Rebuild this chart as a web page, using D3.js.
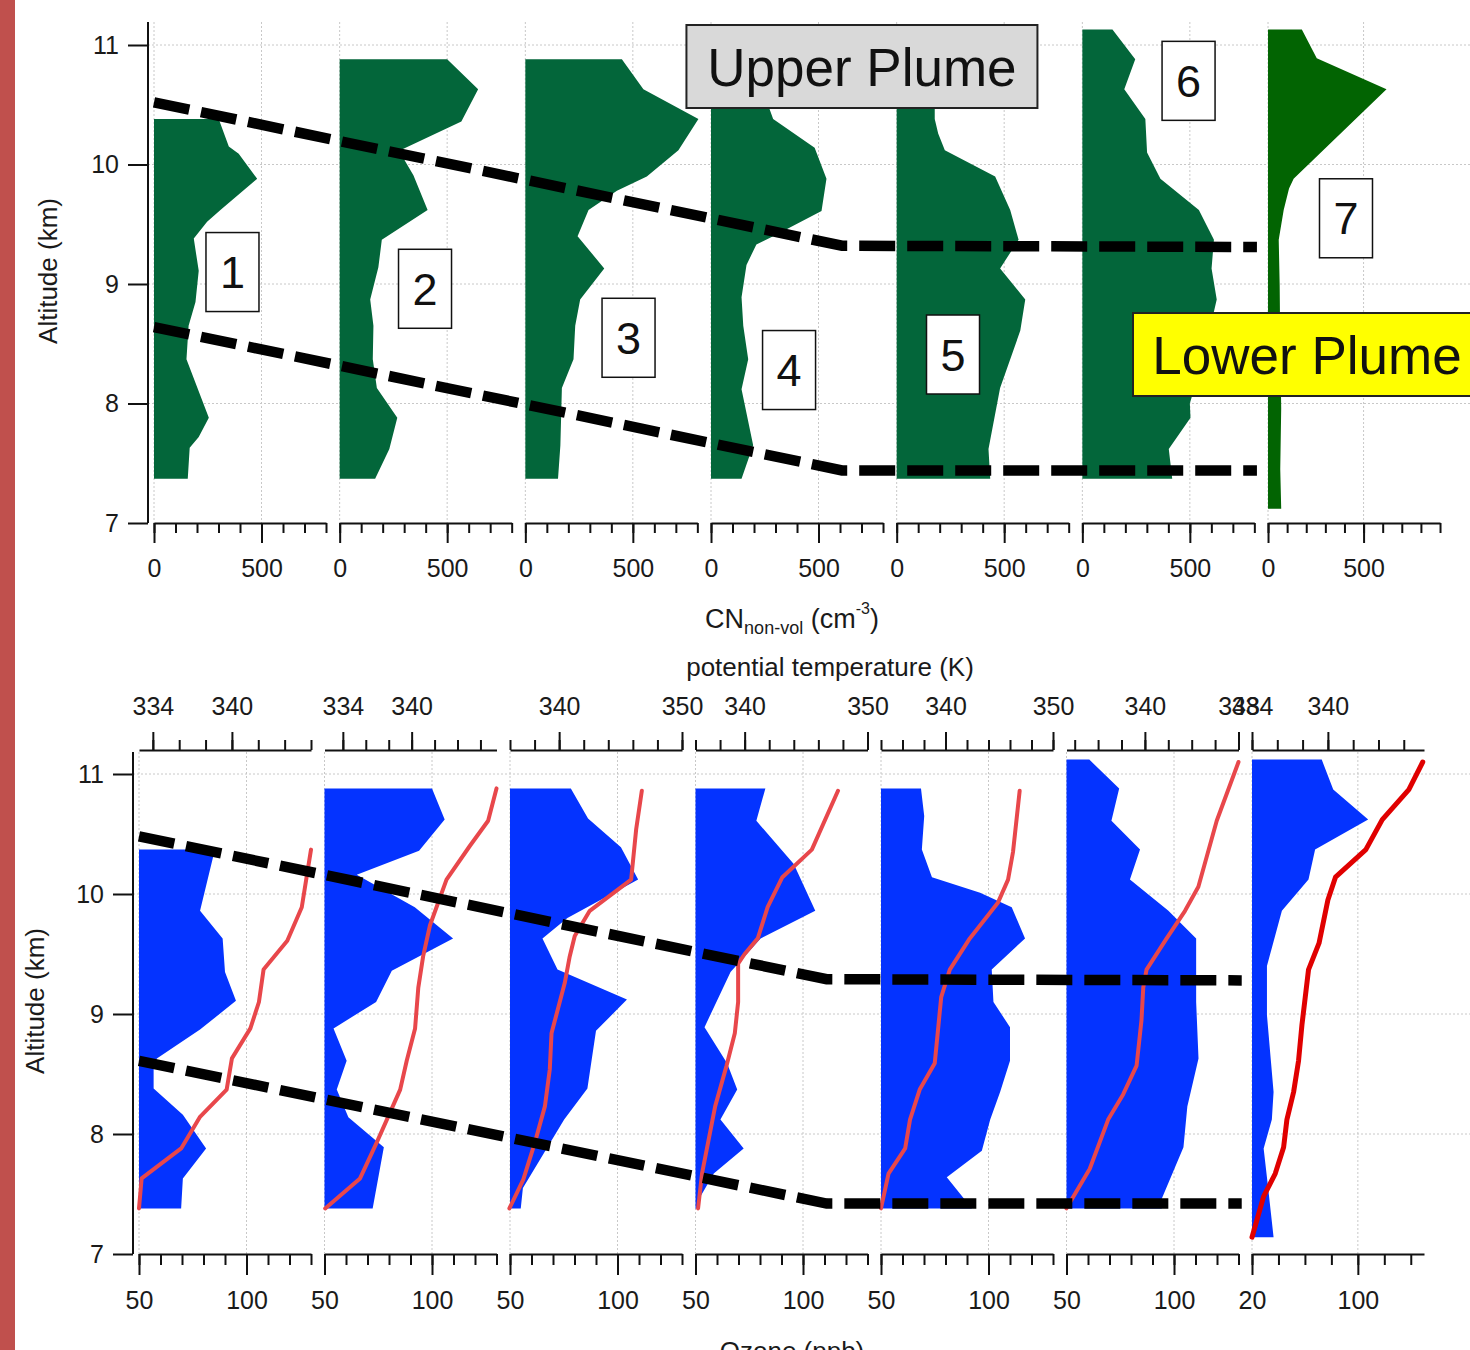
<!DOCTYPE html>
<html><head><meta charset="utf-8">
<script src="https://cdn.jsdelivr.net/npm/d3@7"></script>
<style>
body{margin:0;background:#fff;}
svg{display:block;}
text{font-family:"Liberation Sans",Arial,Helvetica,sans-serif;}
</style>
</head><body>
<svg id="c" width="1470" height="1350"></svg>
<script>
// ---------------- DATA ----------------
// Flight legs
const legLabels = ["1","2","3","4","5","6","7"];

// CN non-volatile profiles: [altitude km, CN cm^-3]
const cn1 = [[7.37,157],[7.63,166],[7.72,208],[7.88,255],[8.37,151],[8.65,161],[8.85,193],[9.11,208],[9.38,185],[9.52,247],[9.62,309],[9.88,480],[10.09,394],[10.15,348],[10.38,301]];
const cn2 = [[7.37,165],[7.62,231],[7.88,268],[8.13,173],[8.37,154],[8.65,157],[8.87,142],[9.14,180],[9.37,196],[9.62,409],[9.91,343],[10.03,304],[10.12,282],[10.36,566],[10.63,644],[10.88,500]];
const cn3 = [[7.37,152],[7.65,163],[8.13,170],[8.37,224],[8.65,232],[8.87,255],[9.13,367],[9.40,243],[9.62,294],[9.78,426],[9.90,565],[10.12,712],[10.38,805],[10.63,549],[10.88,449]];
const cn4 = [[7.37,142],[7.65,196],[8.12,142],[8.37,173],[8.65,150],[8.89,142],[9.16,165],[9.33,211],[9.40,289],[9.61,514],[9.88,537],[10.14,482],[10.38,289],[10.50,265],[10.63,255],[10.88,255]];
const cn5 = [[7.37,435],[7.62,427],[8.13,481],[8.61,575],[8.87,598],[9.13,481],[9.37,567],[9.62,528],[9.90,458],[10.12,224],[10.26,193],[10.38,177],[10.63,177],[10.88,177]];
const cn6 = [[7.37,418],[7.62,402],[7.88,503],[8.0,500],[8.41,566],[8.87,625],[9.13,601],[9.37,612],[9.62,542],[9.88,363],[10.10,301],[10.38,293],[10.63,195],[10.88,246],[11.13,140]];
const cn7 = [[7.12,69],[7.45,64],[7.96,69],[8.48,64],[8.99,61],[9.37,56],[9.62,82],[9.80,110],[9.88,134],[10.63,620],[10.89,255],[11.13,177]];

// Ozone profiles: [altitude km, O3 ppb]
const o3_1 = [[7.38,69.6],[7.63,70.4],[7.88,81.2],[8.16,70.4],[8.38,56.8],[8.55,56.8],[8.63,58.3],[8.87,78.4],[9.11,95.1],[9.35,90.0],[9.63,88.9],[9.86,78.4],[10.37,85.3]];
const o3_2 = [[7.38,72.4],[7.89,77.6],[8.14,61.1],[8.37,55.7],[8.61,60.3],[8.88,54.2],[9.10,74.0],[9.36,81.3],[9.63,109.8],[9.89,92.0],[10.16,65.0],[10.36,94.0],[10.62,105.9],[10.88,100]];
const o3_3 = [[7.38,55],[7.55,56],[8.12,75.2],[8.38,86.0],[8.86,90.0],[9.12,104.4],[9.37,72.1],[9.63,65.1],[9.80,76.7],[10.12,109.6],[10.39,101.6],[10.63,86.3],[10.88,78.3]];
const o3_4 = [[7.38,50.8],[7.48,52.3],[7.67,58.5],[7.88,72.4],[8.12,61.6],[8.37,69.4],[8.59,64.7],[8.89,54.2],[9.35,66.3],[9.63,80.3],[9.86,105.7],[10.25,95.7],[10.61,78.3],[10.88,82.5]];
const o3_5 = [[7.38,92.3],[7.64,80.6],[7.86,96.9],[8.12,100.8],[8.35,105.4],[8.61,110.0],[8.89,110.0],[9.10,102.3],[9.37,101.5],[9.63,117.0],[9.89,110.8],[10.01,96.1],[10.14,73.7],[10.37,69.0],[10.65,70.1],[10.88,68.6]];
const o3_6 = [[7.38,94.3],[7.46,94.3],[7.89,104.4],[8.23,106.2],[8.63,111.4],[9.10,110.3],[9.63,110.3],[9.86,97.4],[10.12,79.5],[10.37,84.2],[10.61,70.9],[10.88,74.5],[11.12,60.6]];
const o3_7 = [[7.14,36.3],[7.59,31.8],[7.88,28.8],[8.12,35.0],[8.35,36.3],[8.99,31.3],[9.40,31.3],[9.86,42.6],[10.12,62.7],[10.37,67.7],[10.62,107.8],[10.87,81.4],[11.12,72.7]];

// Potential temperature profiles: [altitude km, theta K]
const th1 = [[7.38,332.95],[7.63,333.15],[7.88,336.15],[8.14,337.56],[8.37,339.6],[8.63,340.0],[8.88,341.4],[9.10,342.05],[9.37,342.4],[9.61,344.2],[9.89,345.3],[10.37,346.0]];
const th2 = [[7.38,332.46],[7.63,335.5],[7.93,336.96],[8.37,339.0],[8.61,339.57],[8.88,340.3],[9.22,340.58],[9.48,341.0],[9.74,341.6],[10.12,343.04],[10.40,345.07],[10.61,346.67],[10.88,347.4]];
const th3 = [[7.38,335.95],[7.62,337.08],[7.93,338.03],[8.23,338.84],[8.54,339.24],[8.84,339.38],[9.05,339.92],[9.26,340.46],[9.48,340.86],[9.65,341.27],[9.86,342.49],[10.12,345.86],[10.54,346.27],[10.86,346.73]];
const th4 = [[7.38,336.21],[7.67,336.53],[8.23,337.6],[8.57,338.53],[8.84,339.2],[9.10,339.47],[9.42,339.47],[9.50,340.0],[9.63,341.07],[9.89,341.87],[10.14,343.07],[10.37,345.47],[10.86,347.6]];
const th5 = [[7.38,334.0],[7.67,334.7],[7.88,336.25],[8.12,336.7],[8.37,337.6],[8.59,339.0],[9.14,339.6],[9.37,340.4],[9.63,342.26],[9.93,344.89],[10.12,345.82],[10.35,346.28],[10.86,346.9]];
const th6 = [[7.38,333.29],[7.71,335.29],[8.12,336.86],[8.33,338.14],[8.57,339.29],[8.95,339.71],[9.22,339.86],[9.37,340.14],[9.63,341.86],[9.86,343.43],[10.06,344.57],[10.61,346.14],[11.10,348.0]];
const th7 = [[7.14,334.0],[7.48,334.92],[7.67,335.84],[7.89,336.5],[8.12,336.76],[8.35,337.29],[8.61,337.68],[8.91,337.95],[9.14,338.21],[9.37,338.47],[9.59,339.3],[9.95,340.0],[10.14,340.6],[10.37,343.0],[10.62,344.3],[10.87,346.4],[11.10,347.5]];

// Axis domains and tick labels
const altTicks = [7, 8, 9, 10, 11];
const cnDomains = [[0,800],[0,800],[0,800],[0,800],[0,800],[0,800],[0,900]];
const cnTickLabels = [0, 500];
const o3Domains = [[50,130],[50,130],[50,130],[50,130],[50,130],[50,130],[20,150]];
const o3TickStep = [10,10,10,10,10,10,20];
const o3TickLabels = [[50,100],[50,100],[50,100],[50,100],[50,100],[50,100],[20,100]];
const thDomains = [[332.95,346],[332.4,347.4],[336,350],[336,350],[334,350],[333.3,348],[334,347.6]];
const thTickLabels = [[334,340],[334,340],[340,350],[340,350],[340,350],[340,348],[334,340]];

// Plume boundaries: [panel index, x value, altitude]
const cnPlumeUpper = [[0,0,10.52],[3,609,9.32],[5,812,9.31]];
const cnPlumeLower = [[0,0,8.64],[3,609,7.44],[5,812,7.44]];
const o3PlumeUpper = [[0,50,10.48],[3,111,9.29],[5,131.5,9.28]];
const o3PlumeLower = [[0,50,8.61],[3,111,7.42],[5,131.5,7.42]];
// Leg number label anchors: [CN value, altitude] within each top panel
const legLabelPos = [[365,9.10],[397,8.96],[480,8.55],[363,8.28],[262,8.41],[494,10.70],[408,9.55]];

const cnData = [cn1,cn2,cn3,cn4,cn5,cn6,cn7];
const o3Data = [o3_1,o3_2,o3_3,o3_4,o3_5,o3_6,o3_7];
const thData = [th1,th2,th3,th4,th5,th6,th7];

// ---------------- LAYOUT ----------------
const svg = d3.select("#c");
const W = 1470;
const panelW = 172;
const topX0 = 154, topStep = 185.67;
const botX0 = 139, botStep = 185.5;
const yTop = d3.scaleLinear().domain([7,11]).range([523,45]);
const yBot = d3.scaleLinear().domain([7,11]).range([1254,774]);
const cnX = i => d3.scaleLinear().domain(cnDomains[i]).range([topX0+i*topStep, topX0+i*topStep+panelW]);
const o3X = i => d3.scaleLinear().domain(o3Domains[i]).range([botX0+i*botStep, botX0+i*botStep+panelW]);
const thX = i => d3.scaleLinear().domain(thDomains[i]).range([botX0+i*botStep, botX0+i*botStep+panelW]);

const green = "#03663a", green7 = "#026402";
const blue = "#0433ff";
const red = "#e8474b", red7 = "#e00000";
const gridCol = "#c8c8c8";
const tickFs = 25;

// red side strip
svg.append("rect").attr("x",0).attr("y",0).attr("width",15).attr("height",1350).attr("fill","#c0504d");

// ---------- gridlines ----------
const g = svg.append("g").attr("stroke",gridCol).attr("stroke-width",1).attr("stroke-dasharray","2,2").attr("fill","none");
[8,9,10,11].forEach(a=>{
  g.append("line").attr("x1",148).attr("x2",W).attr("y1",yTop(a)).attr("y2",yTop(a));
  g.append("line").attr("x1",133).attr("x2",W).attr("y1",yBot(a)).attr("y2",yBot(a));
});
for(let i=0;i<7;i++){
  cnTickLabels.forEach(v=>{
    const x=cnX(i)(v);
    g.append("line").attr("x1",x).attr("x2",x).attr("y1",22).attr("y2",523);
  });
  o3TickLabels[i].forEach(v=>{
    const x=o3X(i)(v);
    g.append("line").attr("x1",x).attr("x2",x).attr("y1",752).attr("y2",1254);
  });
}

// ---------- profiles ----------
for(let i=0;i<7;i++){
  const x = cnX(i);
  const area = d3.area().x0(x(cnDomains[i][0])).x1(d=>x(d[1])).y(d=>yTop(d[0]));
  svg.append("path").datum(cnData[i]).attr("d",area).attr("fill", i===6?green7:green);
}
for(let i=0;i<7;i++){
  const x = o3X(i);
  const area = d3.area().x0(x(o3Domains[i][0])).x1(d=>x(d[1])).y(d=>yBot(d[0]));
  svg.append("path").datum(o3Data[i]).attr("d",area).attr("fill", blue);
}
for(let i=0;i<7;i++){
  const x = thX(i);
  const line = d3.line().x(d=>x(d[1])).y(d=>yBot(d[0]));
  svg.append("path").datum(thData[i]).attr("d",line).attr("fill","none")
    .attr("stroke", i===6?red7:red).attr("stroke-width", i===6?5:4)
    .attr("stroke-linejoin","round").attr("stroke-linecap","round");
}

// ---------- axes ----------
function styleAxis(sel, fs){
  sel.select(".domain").attr("stroke","#111").attr("stroke-width",2);
  sel.selectAll(".tick line").attr("stroke","#111").attr("stroke-width",2);
  sel.selectAll("text").attr("font-size",fs).attr("fill","#1a1a1a")
     .style("font-family","'Liberation Sans',Arial,sans-serif");
}
// Left altitude axes
const ayT = svg.append("g").attr("transform","translate(148,0)")
  .call(d3.axisLeft(yTop).tickValues(altTicks).tickFormat(d3.format("d")).tickSize(20).tickPadding(9).tickSizeOuter(0));
ayT.select(".domain").attr("d","M0,22V523");
styleAxis(ayT,tickFs);
const ayB = svg.append("g").attr("transform","translate(133,0)")
  .call(d3.axisLeft(yBot).tickValues(altTicks).tickFormat(d3.format("d")).tickSize(20).tickPadding(9).tickSizeOuter(0));
ayB.select(".domain").attr("d","M0,752V1254");
styleAxis(ayB,tickFs);

for(let i=0;i<7;i++){
  // CN axes
  const x = cnX(i);
  const minor = d3.range(cnDomains[i][0], cnDomains[i][1]+1, 100);
  const gm = svg.append("g").attr("transform","translate(0,523)")
    .call(d3.axisBottom(x).tickValues(minor).tickFormat("").tickSize(10).tickSizeOuter(0));
  styleAxis(gm,tickFs);
  const gM = svg.append("g").attr("transform","translate(0,523)")
    .call(d3.axisBottom(x).tickValues(cnTickLabels).tickFormat(d3.format("d")).tickSize(20).tickPadding(16).tickSizeOuter(0));
  gM.select(".domain").remove();
  styleAxis(gM,tickFs);

  // ozone axes
  const xo = o3X(i);
  const ominor = d3.range(o3Domains[i][0], o3Domains[i][1]+0.1, o3TickStep[i]);
  const go = svg.append("g").attr("transform","translate(0,1254)")
    .call(d3.axisBottom(xo).tickValues(ominor).tickFormat("").tickSize(11).tickSizeOuter(0));
  styleAxis(go,tickFs);
  const goM = svg.append("g").attr("transform","translate(0,1254)")
    .call(d3.axisBottom(xo).tickValues(o3TickLabels[i]).tickFormat(d3.format("d")).tickSize(21).tickPadding(16).tickSizeOuter(0));
  goM.select(".domain").remove();
  styleAxis(goM,tickFs);

  // theta axes
  const xt = thX(i);
  const tminor = d3.range(Math.ceil(thDomains[i][0]/2)*2, thDomains[i][1]+0.01, 2);
  const gt = svg.append("g").attr("transform","translate(0,750)")
    .call(d3.axisTop(xt).tickValues(tminor).tickFormat("").tickSize(10).tickSizeOuter(0));
  styleAxis(gt,tickFs);
  const gtM = svg.append("g").attr("transform","translate(0,750)")
    .call(d3.axisTop(xt).tickValues(thTickLabels[i]).tickFormat(d3.format("d")).tickSize(18).tickPadding(17).tickSizeOuter(0));
  gtM.select(".domain").remove();
  styleAxis(gtM,tickFs);
}

// ---------- axis titles ----------
svg.append("text").attr("transform","translate(57,271) rotate(-90)").attr("text-anchor","middle")
  .attr("font-size",26).attr("fill","#1a1a1a").text("Altitude (km)");
svg.append("text").attr("transform","translate(44,1001) rotate(-90)").attr("text-anchor","middle")
  .attr("font-size",26).attr("fill","#1a1a1a").text("Altitude (km)");
const cnT = svg.append("text").attr("x",792).attr("y",628).attr("text-anchor","middle").attr("font-size",27).attr("fill","#1a1a1a");
cnT.append("tspan").text("CN");
cnT.append("tspan").attr("font-size",18).attr("dy",6).text("non-vol");
cnT.append("tspan").attr("font-size",27).attr("dy",-6).text(" (cm");
cnT.append("tspan").attr("font-size",16).attr("dy",-14).text("-3");
cnT.append("tspan").attr("font-size",27).attr("dy",14).text(")");
svg.append("text").attr("x",830).attr("y",676).attr("text-anchor","middle").attr("font-size",26).attr("fill","#1a1a1a").text("potential temperature (K)");
svg.append("text").attr("x",792).attr("y",1360).attr("text-anchor","middle").attr("font-size",26).attr("fill","#1a1a1a").text("Ozone (ppb)");

// ---------- plume boundaries ----------
function plumePath(pts, xf, y){
  return d3.line().x(d=>xf(d[0])(d[1])).y(d=>y(d[2]))(pts);
}
[cnPlumeUpper, cnPlumeLower].forEach(p=>{
  svg.append("path").attr("d",plumePath(p,cnX,yTop)).attr("fill","none").attr("stroke","#000")
    .attr("stroke-width",10.5).attr("stroke-dasharray","36,12");
});
[o3PlumeUpper, o3PlumeLower].forEach(p=>{
  svg.append("path").attr("d",plumePath(p,o3X,yBot)).attr("fill","none").attr("stroke","#000")
    .attr("stroke-width",10.5).attr("stroke-dasharray","36,12");
});

// ---------- annotations ----------
legLabels.forEach((lab,i)=>{
  const cx = cnX(i)(legLabelPos[i][0]), cy = yTop(legLabelPos[i][1]);
  svg.append("rect").attr("x",cx-26.5).attr("y",cy-39.5).attr("width",53).attr("height",79)
    .attr("fill","#fff").attr("stroke","#111").attr("stroke-width",1.5);
  svg.append("text").attr("x",cx).attr("y",cy+16).attr("text-anchor","middle").attr("font-size",45).attr("fill","#111").text(lab);
});
{
  const cx = cnX(3)(702), cy = yTop(10.82);
  svg.append("rect").attr("x",cx-175.5).attr("y",cy-41.5).attr("width",351).attr("height",83)
    .attr("fill","#d9d9d9").attr("stroke","#222").attr("stroke-width",2);
  svg.append("text").attr("x",cx).attr("y",cy+19).attr("text-anchor","middle").attr("font-size",53).attr("fill","#111").text("Upper Plume");
}
{
  const cx = cnX(6)(204), cy = yTop(8.41);
  svg.append("rect").attr("x",cx-174).attr("y",cy-41.5).attr("width",340).attr("height",83)
    .attr("fill","#ffff00").attr("stroke","#222").attr("stroke-width",2);
  svg.append("text").attr("x",cx).attr("y",cy+19).attr("text-anchor","middle").attr("font-size",53).attr("fill","#111").text("Lower Plume");
}
</script>
</body></html>
